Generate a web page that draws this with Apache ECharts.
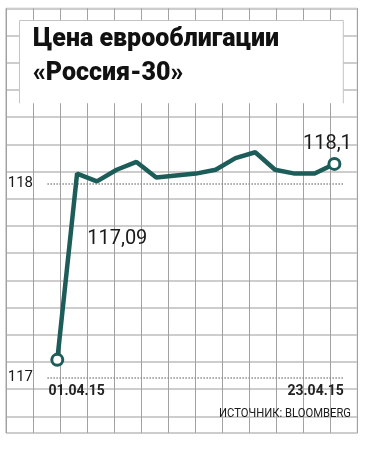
<!DOCTYPE html>
<html>
<head>
<meta charset="utf-8">
<script src="https://cdn.jsdelivr.net/npm/echarts@6/dist/echarts.min.js"></script>
<style>
  html, body { margin: 0; padding: 0; background: #fff; }
  #chart { width: 372px; height: 449px; }
</style>
</head>
<body>
<div id="chart"></div>
<script>
// ---- data ----
const titleText = 'Цена еврооблигации\n«Россия-30»';
const sourceText = 'ИСТОЧНИК: BLOOMBERG';
const dates = ['01.04.15','02.04.15','07.04.15','08.04.15','09.04.15','10.04.15','13.04.15','14.04.15',
               '15.04.15','16.04.15','17.04.15','20.04.15','21.04.15','22.04.15','23.04.15'];
const prices = [117.09, 118.05, 118.01, 118.07, 118.11, 118.03, 118.04, 118.05,
                118.07, 118.13, 118.16, 118.07, 118.05, 118.05, 118.10];
const yTicks = [117, 118];
const labelledPoints = { 0: '117,09', 14: '118,1' };

// ---- styles ----
const teal = '#1d5d59';
const vGray = '#a2a2a2';
const hGray = '#cdcdcd';
const xLabelFont = { fontFamily: 'Roboto', fontWeight: 'bold', fontSize: 14 };
const sourceFont = '12.5px Roboto';

const chart = echarts.init(document.getElementById('chart'), null, { renderer: 'canvas' });

// main plot geometry
const mainLeft = 47.4, mainWidth = 296.9;
const halfBand = mainWidth / dates.length / 2;

// measure texts
const cv = document.createElement('canvas').getContext('2d');
cv.font = `${xLabelFont.fontWeight} ${xLabelFont.fontSize}px ${xLabelFont.fontFamily}`;
const wFirst = cv.measureText(dates[0]).width;
const wLast = cv.measureText(dates[dates.length - 1]).width;
const padFirst = Math.max(0, wFirst - 2 * halfBand + 2);
const padLast = Math.max(0, wLast - 2 * halfBand + 1);
cv.font = sourceFont;
const sourceScale = Math.min(1, 132 / cv.measureText(sourceText).width);

const seriesData = prices.map((v, i) => {
  const item = { value: v, symbol: 'none' };
  if (i === 0 || i === prices.length - 1) {
    item.symbol = 'circle';
    item.label = {
      show: true,
      formatter: labelledPoints[i],
      position: 'inside',
      offset: i === 0 ? [60, -121] : [-7, -20],
      fontFamily: 'Roboto',
      fontSize: 20,
      color: '#1a1a1a'
    };
  }
  return item;
});

const option = {
  animation: false,
  backgroundColor: '#fff',
  title: [
    {
      text: titleText,
      left: 33, top: 23, padding: 0,
      textStyle: { fontFamily: 'Roboto', fontWeight: 900, fontSize: 25, lineHeight: 34, color: '#111' }
    }
  ],
  graphic: [
    { type: 'rect', z: 3, silent: true, shape: { x: 19.5, y: 20, width: 323.8, height: 83.3 }, style: { fill: '#fff' } },
    { type: 'polyline', z: 4, silent: true,
      shape: { points: [[19.5, 103.3], [19.5, 20.5], [343.3, 20.5], [343.3, 103.3]] },
      style: { stroke: '#c4c4c4', lineWidth: 1, fill: null } },
    { type: 'text', z: 6, silent: true, x: 351, y: 414, scaleX: sourceScale,
      style: { text: sourceText, font: sourceFont, fill: '#1a1a1a', align: 'right', verticalAlign: 'middle' } }
  ],
  grid: [
    { left: mainLeft, width: mainWidth, top: 144.5, bottom: 71.7 },
    { left: 6, width: 351.3, top: 8.3, height: 424.7, show: true, borderColor: '#a8a8a8', borderWidth: 1, backgroundColor: 'transparent' }
  ],
  xAxis: [
    {
      type: 'category', gridIndex: 0, data: dates, boundaryGap: true,
      axisLine: { show: false }, axisTick: { show: false }, splitLine: { show: false },
      axisLabel: {
        interval: (i) => i === 0 || i === dates.length - 1,
        margin: 7,
        formatter: (v, i) => i === 0 ? `{f|${v}}` : `{l|${v}}`,
        rich: {
          f: Object.assign({ color: '#222', padding: [0, 0, 0, padFirst] }, xLabelFont),
          l: Object.assign({ color: '#222', padding: [0, padLast, 0, 0] }, xLabelFont)
        }
      }
    },
    {
      type: 'value', gridIndex: 1, min: 0, max: 13, interval: 1,
      axisLine: { show: false }, axisTick: { show: false }, axisLabel: { show: false },
      splitLine: { show: true, lineStyle: { color: vGray, width: 1 } }
    }
  ],
  yAxis: [
    {
      type: 'value', gridIndex: 0, min: 117, max: 118.2, interval: 1,
      axisLine: { show: false }, axisTick: { show: false }, splitLine: { show: false },
      axisLabel: {
        margin: 14.4,
        formatter: (v) => yTicks.includes(v) ? String(v) : '',
        fontFamily: 'Roboto', fontSize: 15, color: '#1a1a1a'
      }
    },
    {
      type: 'value', gridIndex: 1, min: 0, max: 15.61, interval: 1, inverse: true,
      axisLine: { show: false }, axisTick: { show: false }, axisLabel: { show: false },
      splitLine: { show: true, lineStyle: { color: hGray, width: 2 } }
    }
  ],
  series: [
    {
      type: 'line', xAxisIndex: 0, yAxisIndex: 0,
      data: seriesData,
      symbolSize: 11,
      showAllSymbol: true,
      lineStyle: { color: teal, width: 4.5 },
      itemStyle: { color: '#fff', borderColor: teal, borderWidth: 3 },
      z: 5,
      markLine: {
        silent: true, symbol: 'none', z: 1,
        label: { show: false },
        lineStyle: { color: '#8c8c8c', width: 1.5, type: [1.5, 1.5] },
        data: yTicks.map(t => ({ yAxis: t }))
      }
    }
  ]
};
chart.setOption(option);
</script>
</body>
</html>
